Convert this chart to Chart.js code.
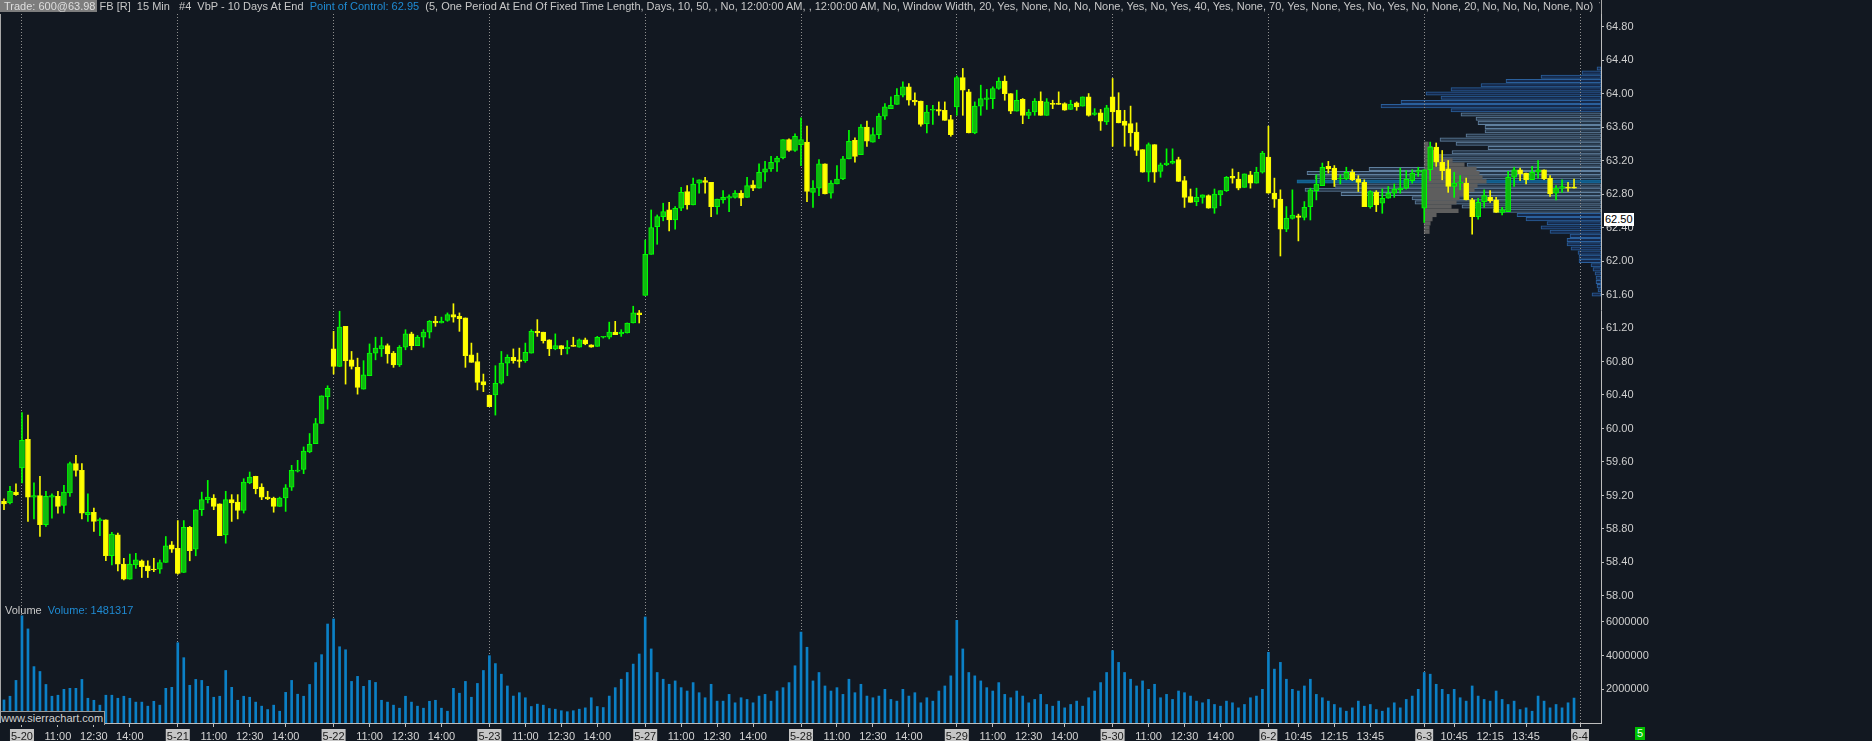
<!DOCTYPE html>
<html>
<head>
<meta charset="utf-8">
<title>FB 15 Min - VbP</title>
<script src="https://cdn.jsdelivr.net/npm/chart.js@4.4.1/dist/chart.umd.min.js"></script>
<style>
  html, body { margin: 0; padding: 0; background: #121821; overflow: hidden; }
  #wrap { position: relative; width: 1872px; height: 741px; }
  canvas { position: absolute; left: 0; top: 0; }
  #profileChart { z-index: 1; }
  #mainChart { z-index: 2; }
  .txt { position: absolute; z-index: 3; font: 11px 'Liberation Sans', Arial, sans-serif; color: #c8c8c8; white-space: pre; line-height: 13px; }
  .blue { color: #1f8bd3; }
  #header { left: 0; top: 0; width: 1600px; overflow: hidden; }
  .tradeBox { background: #7d7d7d; color: #dedede; padding: 0 1px 0 4px; }
  .line { position: absolute; z-index: 3; background: #a8a8a8; }
  #lastPrice { background: #ffffff; color: #000; padding: 0 1px; }
  #watermark { background: #121821; color: #d0d0d0; border-right: 1px solid #9a9a9a; border-top: 1px solid #9a9a9a; padding: 0 1px; }
  #barsLeft { background: #00c000; color: #eaffea; padding: 0 2px; }
</style>
</head>
<body>
<div id="wrap">
  <canvas id="profileChart" width="1872" height="741"></canvas>
  <canvas id="mainChart" width="1872" height="741"></canvas>
  <div class="txt" id="header"><span class="tradeBox">Trade: 600@63.98</span> FB [R]  15 Min   #4  VbP - 10 Days At End  <span class="blue">Point of Control: 62.95</span>  (5, One Period At End Of Fixed Time Length, Days, 10, 50, , No, 12:00:00 AM, , 12:00:00 AM, No, Window Width, 20, Yes, None, No, No, None, Yes, No, Yes, 40, Yes, None, 70, Yes, None, Yes, No, Yes, No, None, 20, No, No, No, None, No)  V</div>
  <div class="txt" style="left:5px;top:604px;">Volume  <span class="blue">Volume: 1481317</span></div>
  <div class="txt" id="watermark" style="left:0;top:711px;">www.sierrachart.com</div>
  <div class="txt" id="lastPrice" style="left:1604px;top:0;">62.50</div>
  <div class="txt" id="barsLeft" style="left:1635px;top:727px;">5</div>
  <div class="line" style="left:0;top:14px;width:1px;height:709px;"></div>
  <div class="line" style="left:1601px;top:0;width:1px;height:14px;"></div>
</div>
<script>
// ---- sessions / x axis -------------------------------------------------
const sessionDates = ['5-20', '5-21', '5-22', '5-23', '5-27', '5-28', '5-29', '5-30', '6-2', '6-3', '6-4'];
const priorBars = 3;          // last bars of the session before 5-20
const barsPerSession = 26;    // 15 min bars 9:30 .. 15:45
const emptySlots = 4;         // free space right of the last bar
const tickTimesWide = ['11:00', '12:30', '14:00'];
const tickTimesNarrow = ['10:45', '12:15', '13:45'];
const narrowSessions = ['6-2', '6-3'];

// ---- price axis ---------------------------------------------------------
const priceMin = 57.88;
const priceMax = 64.95;
const priceTicks = [58.00, 58.40, 58.80, 59.20, 59.60, 60.00, 60.40, 60.80, 61.20, 61.60,
  62.00, 62.40, 62.80, 63.20, 63.60, 64.00, 64.40, 64.80];
const volumeMax = 6950000;
const volumeTicks = [2000000, 4000000, 6000000];
const lastPriceLabel = 62.50;

// ---- candles (one row per session) -------------------------------------
const opens = [
  59.13, 59.11, 59.24,
  59.53, 59.87, 59.18, 59.20, 58.85, 59.18, 59.19, 59.08, 59.23, 59.58, 59.50, 58.97, 59.00, 58.90, 58.91, 58.48, 58.73, 58.38, 58.20, 58.37, 58.42, 58.36, 58.31, 58.32, 58.40, 58.61,
  58.57, 58.28, 58.82, 58.56, 59.03, 59.15, 59.17, 59.10, 58.73, 59.15, 59.12, 59.02, 59.35, 59.43, 59.30, 59.18, 59.17, 59.07, 59.17, 59.30, 59.49, 59.51, 59.72, 59.82, 60.06, 60.38,
  60.95, 60.74, 61.22, 60.82, 60.73, 60.47, 60.63, 60.90, 60.95, 60.99, 60.90, 60.76, 60.97, 61.13, 60.99, 61.09, 61.15, 61.28, 61.26, 61.29, 61.36, 61.34, 61.32, 60.88, 60.80, 60.56,
  60.40, 60.40, 60.54, 60.78, 60.85, 60.82, 60.81, 60.90, 61.16, 61.15, 61.06, 60.95, 60.99, 60.95, 60.98, 60.97, 61.06, 61.00, 60.98, 61.09, 61.09, 61.15, 61.13, 61.14, 61.26, 61.38,
  61.59, 62.08, 62.41, 62.53, 62.61, 62.49, 62.63, 62.83, 62.67, 62.93, 62.96, 62.94, 62.65, 62.73, 62.75, 62.76, 62.81, 62.76, 62.91, 62.87, 63.06, 63.10, 63.18, 63.23, 63.45, 63.32,
  63.39, 63.42, 62.82, 62.87, 63.16, 62.81, 62.92, 62.98, 63.22, 63.44, 63.27, 63.60, 63.42, 63.51, 63.73, 63.82, 63.87, 63.98, 64.08, 63.92, 63.91, 63.64, 63.80, 63.81, 63.80, 63.69,
  63.84, 64.19, 64.02, 63.53, 63.85, 63.93, 63.94, 64.06, 64.15, 64.00, 63.79, 63.93, 63.74, 63.78, 63.91, 63.74, 63.88, 63.88, 63.88, 63.81, 63.89, 63.85, 63.96, 63.75, 63.77, 63.66,
  63.96, 63.80, 63.67, 63.64, 63.54, 63.33, 63.06, 63.39, 63.07, 63.15, 63.17, 63.21, 62.96, 62.77, 62.71, 62.76, 62.78, 62.63, 62.79, 62.84, 63.01, 62.98, 62.88, 63.03, 62.93, 63.06,
  63.24, 62.81, 62.74, 62.38, 62.51, 62.54, 62.52, 62.65, 62.84, 62.90, 63.13, 63.11, 62.98, 62.98, 63.06, 62.98, 62.94, 62.65, 62.82, 62.69, 62.75, 62.81, 62.85, 62.87, 62.96, 63.06,
  62.63, 63.09, 63.36, 63.18, 63.10, 62.89, 62.93, 62.93, 62.73, 62.53, 62.71, 62.76, 62.73, 62.58, 62.59, 63.00, 63.09, 63.05, 62.97, 63.06, 63.09, 62.99, 62.81, 62.87, 62.88, 62.87
];
const highs = [
  59.16, 59.31, 59.34,
  60.19, 60.16, 59.35, 59.43, 59.25, 59.22, 59.25, 59.32, 59.60, 59.68, 59.58, 59.22, 59.05, 58.93, 58.91, 58.76, 58.75, 58.45, 58.50, 58.51, 58.43, 58.42, 58.45, 58.43, 58.71, 58.65,
  58.90, 58.90, 58.83, 59.03, 59.24, 59.38, 59.21, 59.10, 59.25, 59.21, 59.21, 59.40, 59.48, 59.43, 59.34, 59.25, 59.18, 59.18, 59.33, 59.56, 59.62, 59.78, 59.94, 60.12, 60.39, 60.51,
  61.16, 61.40, 61.22, 60.92, 60.84, 60.81, 61.01, 61.09, 61.09, 61.01, 60.92, 60.99, 61.18, 61.15, 61.11, 61.18, 61.29, 61.34, 61.33, 61.38, 61.49, 61.38, 61.32, 61.02, 60.90, 60.65,
  60.40, 60.75, 60.92, 60.88, 60.95, 60.96, 61.02, 61.18, 61.30, 61.15, 61.06, 61.13, 60.99, 61.05, 61.09, 61.07, 61.08, 61.00, 61.10, 61.10, 61.27, 61.28, 61.18, 61.26, 61.46, 61.41,
  62.25, 62.61, 62.55, 62.69, 62.70, 62.65, 62.88, 62.90, 62.99, 62.97, 63.00, 62.94, 62.74, 62.84, 62.79, 62.84, 62.84, 63.00, 62.96, 63.16, 63.19, 63.25, 63.25, 63.45, 63.46, 63.52,
  63.71, 63.61, 62.96, 63.21, 63.16, 62.96, 63.14, 63.25, 63.56, 63.47, 63.63, 63.67, 63.59, 63.76, 63.88, 63.96, 64.06, 64.14, 64.12, 64.01, 63.91, 63.86, 63.86, 63.90, 63.90, 63.74,
  64.21, 64.30, 64.05, 63.90, 64.10, 64.05, 64.08, 64.19, 64.21, 64.00, 64.04, 63.94, 63.81, 63.94, 64.02, 63.94, 63.92, 64.02, 63.89, 63.92, 63.90, 63.96, 64.00, 63.82, 63.81, 63.86,
  64.18, 64.01, 63.80, 63.85, 63.65, 63.33, 63.41, 63.39, 63.17, 63.34, 63.34, 63.24, 63.01, 62.86, 62.87, 62.79, 62.79, 62.86, 62.84, 63.01, 63.10, 63.06, 63.04, 63.07, 63.12, 63.31,
  63.61, 62.99, 62.85, 62.65, 62.85, 62.56, 62.71, 62.87, 63.03, 63.17, 63.19, 63.14, 63.03, 63.12, 63.09, 63.02, 62.97, 62.84, 62.84, 62.86, 62.89, 62.92, 63.11, 63.08, 63.09, 63.12,
  63.09, 63.42, 63.41, 63.32, 63.20, 63.06, 63.02, 62.99, 62.75, 62.75, 62.85, 62.84, 62.76, 62.64, 63.07, 63.12, 63.11, 63.05, 63.13, 63.20, 63.09, 63.02, 62.90, 62.97, 62.94, 62.98
];
const lows = [
  59.03, 59.10, 59.20,
  59.35, 58.89, 58.92, 58.71, 58.83, 58.93, 58.99, 58.99, 59.19, 59.43, 58.92, 58.89, 58.77, 58.72, 58.42, 58.37, 58.30, 58.19, 58.20, 58.33, 58.22, 58.22, 58.29, 58.27, 58.40, 58.52,
  58.26, 58.28, 58.42, 58.48, 58.96, 59.11, 59.03, 58.72, 58.63, 58.89, 58.92, 58.99, 59.34, 59.22, 59.15, 59.15, 59.00, 59.07, 59.01, 59.26, 59.48, 59.46, 59.71, 59.82, 60.06, 60.23,
  60.65, 60.74, 60.53, 60.71, 60.41, 60.47, 60.63, 60.82, 60.86, 60.78, 60.73, 60.74, 60.94, 60.94, 60.99, 60.97, 61.08, 61.22, 61.26, 61.28, 61.27, 61.16, 60.73, 60.79, 60.46, 60.44,
  60.26, 60.16, 60.53, 60.63, 60.78, 60.73, 60.79, 60.90, 61.10, 61.02, 60.87, 60.94, 60.88, 60.89, 60.98, 60.97, 61.00, 60.97, 60.98, 61.08, 61.07, 61.12, 61.10, 61.14, 61.26, 61.26,
  61.59, 62.08, 62.20, 62.48, 62.36, 62.38, 62.60, 62.62, 62.67, 62.81, 62.81, 62.53, 62.56, 62.69, 62.59, 62.75, 62.66, 62.76, 62.84, 62.87, 62.95, 63.07, 63.07, 63.22, 63.31, 63.31,
  63.14, 62.71, 62.64, 62.78, 62.80, 62.75, 62.92, 62.97, 63.22, 63.18, 63.27, 63.37, 63.42, 63.46, 63.69, 63.82, 63.87, 63.96, 63.86, 63.86, 63.61, 63.53, 63.63, 63.74, 63.68, 63.49,
  63.74, 63.74, 63.53, 63.52, 63.74, 63.81, 63.82, 64.05, 63.92, 63.76, 63.79, 63.64, 63.70, 63.74, 63.74, 63.74, 63.82, 63.87, 63.80, 63.81, 63.80, 63.85, 63.73, 63.74, 63.56, 63.63,
  63.37, 63.65, 63.37, 63.37, 63.26, 63.06, 62.95, 62.94, 63.00, 63.14, 63.16, 62.95, 62.64, 62.70, 62.66, 62.69, 62.63, 62.57, 62.66, 62.83, 62.93, 62.85, 62.88, 62.87, 62.93, 63.05,
  62.81, 62.64, 62.06, 62.35, 62.50, 62.24, 62.49, 62.49, 62.73, 62.90, 63.05, 62.89, 62.92, 62.97, 62.96, 62.83, 62.65, 62.63, 62.59, 62.57, 62.75, 62.76, 62.81, 62.86, 62.93, 63.01,
  62.46, 62.96, 63.13, 62.97, 62.82, 62.76, 62.85, 62.73, 62.32, 62.50, 62.64, 62.70, 62.58, 62.55, 62.59, 62.89, 62.96, 62.92, 62.97, 62.99, 62.97, 62.77, 62.73, 62.82, 62.83, 62.87
];
const closes = [
  59.10, 59.25, 59.21,
  59.86, 59.18, 59.20, 58.85, 59.19, 59.20, 59.07, 59.24, 59.58, 59.50, 58.99, 59.00, 58.89, 58.91, 58.48, 58.74, 58.38, 58.20, 58.38, 58.43, 58.35, 58.30, 58.31, 58.40, 58.60, 58.56,
  58.27, 58.82, 58.54, 59.03, 59.15, 59.18, 59.07, 58.72, 59.15, 59.11, 59.02, 59.36, 59.42, 59.28, 59.18, 59.16, 59.07, 59.17, 59.29, 59.50, 59.50, 59.73, 59.81, 60.06, 60.39, 60.48,
  60.74, 61.21, 60.81, 60.74, 60.49, 60.64, 60.90, 60.96, 60.99, 60.89, 60.76, 60.97, 61.13, 60.99, 61.09, 61.15, 61.28, 61.26, 61.28, 61.36, 61.33, 61.31, 60.87, 60.79, 60.55, 60.52,
  60.26, 60.54, 60.78, 60.85, 60.81, 60.80, 60.91, 61.16, 61.14, 61.05, 60.95, 60.99, 60.95, 60.97, 60.98, 61.06, 61.01, 60.97, 61.09, 61.10, 61.15, 61.12, 61.15, 61.26, 61.38, 61.36,
  62.08, 62.40, 62.53, 62.59, 62.49, 62.63, 62.82, 62.67, 62.92, 62.97, 62.94, 62.65, 62.74, 62.76, 62.77, 62.81, 62.75, 62.90, 62.87, 63.06, 63.10, 63.18, 63.23, 63.45, 63.32, 63.49,
  63.45, 62.83, 62.87, 63.16, 62.80, 62.93, 62.98, 63.22, 63.43, 63.25, 63.60, 63.43, 63.51, 63.73, 63.84, 63.86, 63.98, 64.08, 63.92, 63.90, 63.63, 63.78, 63.81, 63.79, 63.68, 63.51,
  64.19, 64.04, 63.53, 63.85, 63.94, 63.95, 64.06, 64.15, 64.00, 63.79, 63.92, 63.74, 63.78, 63.91, 63.74, 63.90, 63.87, 63.87, 63.80, 63.87, 63.84, 63.96, 63.74, 63.77, 63.67, 63.83,
  63.78, 63.65, 63.62, 63.53, 63.32, 63.06, 63.39, 63.06, 63.15, 63.17, 63.19, 62.95, 62.76, 62.70, 62.76, 62.79, 62.63, 62.80, 62.84, 63.00, 62.99, 62.87, 63.04, 62.93, 63.06, 63.29,
  62.81, 62.74, 62.38, 62.51, 62.55, 62.52, 62.64, 62.85, 62.92, 63.12, 63.10, 62.97, 62.99, 63.06, 62.97, 62.94, 62.65, 62.83, 62.67, 62.75, 62.81, 62.86, 62.87, 62.98, 63.05, 63.08,
  63.09, 63.36, 63.18, 63.08, 62.89, 62.93, 62.94, 62.73, 62.53, 62.70, 62.78, 62.72, 62.58, 62.61, 63.00, 63.09, 63.04, 62.97, 63.06, 63.09, 62.98, 62.80, 62.87, 62.89, 62.87, 62.87
];
const volume = [
  1370000, 1590000, 2530000,
  6370000, 5590000, 3350000, 3060000, 2290000, 1590000, 1650000, 2000000, 2060000, 2060000, 2590000, 1470000, 1350000, 1060000, 1650000, 1650000, 1470000, 1590000, 1470000, 1240000, 1240000, 1000000, 1290000, 1060000, 2060000, 2120000,
  4770000, 3880000, 2240000, 2590000, 2530000, 2180000, 1530000, 1590000, 3120000, 2120000, 1350000, 1590000, 1530000, 1240000, 1000000, 800000, 1060000, 700000, 1820000, 2530000, 1710000, 1590000, 2290000, 3590000, 4060000, 5880000,
  6180000, 4530000, 4350000, 2470000, 2770000, 2180000, 2530000, 2410000, 1350000, 1240000, 1060000, 880000, 1590000, 1240000, 1000000, 880000, 1290000, 1350000, 880000, 700000, 2060000, 1770000, 2470000, 1530000, 2350000, 3120000,
  4000000, 3530000, 2900000, 2200000, 1600000, 1800000, 1500000, 980000, 1120000, 1060000, 860000, 820000, 730000, 670000, 730000, 820000, 900000, 1500000, 980000, 920000, 1600000, 2100000, 2600000, 3000000, 3500000, 4100000,
  6300000, 4400000, 3000000, 2600000, 2300000, 2500000, 2100000, 1900000, 2400000, 1800000, 1500000, 2300000, 1300000, 1300000, 1700000, 1200000, 1500000, 1400000, 1200000, 1600000, 1700000, 1300000, 1900000, 2100000, 2400000, 3400000,
  5400000, 4500000, 2500000, 3000000, 2200000, 1900000, 2100000, 1700000, 2600000, 1800000, 2300000, 1600000, 1500000, 1600000, 2000000, 1400000, 1300000, 2000000, 1600000, 1800000, 1200000, 1500000, 1300000, 1900000, 2200000, 2800000,
  6100000, 4400000, 3000000, 2800000, 2500000, 2100000, 1900000, 2400000, 1700000, 1500000, 1900000, 1600000, 1200000, 1400000, 1700000, 1100000, 1000000, 1300000, 900000, 1100000, 1300000, 1000000, 1500000, 1900000, 2400000, 3000000,
  4300000, 3600000, 3000000, 2600000, 2200000, 2500000, 2000000, 2300000, 1500000, 1700000, 1400000, 1900000, 1800000, 1600000, 1300000, 1200000, 1400000, 1100000, 1000000, 1300000, 1200000, 900000, 1100000, 1500000, 1600000, 2000000,
  4200000, 3200000, 3600000, 2600000, 2000000, 1900000, 2200000, 2600000, 1700000, 1500000, 1300000, 1100000, 900000, 700000, 900000, 1300000, 1000000, 1100000, 800000, 700000, 900000, 1200000, 900000, 1400000, 1600000, 2000000,
  3000000, 2900000, 2300000, 2000000, 1700000, 2000000, 1500000, 1300000, 2200000, 1600000, 1400000, 1300000, 1900000, 1400000, 1100000, 1300000, 800000, 900000, 700000, 1600000, 1300000, 900000, 1100000, 900000, 1200000, 1481317
];

// ---- volume by price, 10 days (relative length) --
const profilePrices = [
  64.30, 64.25, 64.20, 64.15, 64.10, 64.05, 64.00, 63.95, 63.90, 63.85, 63.80, 63.75, 63.70, 63.65,
  63.60, 63.55, 63.50, 63.45, 63.40, 63.35, 63.30, 63.25, 63.20, 63.15, 63.10, 63.05, 63.00, 62.95,
  62.90, 62.85, 62.80, 62.75, 62.70, 62.65, 62.60, 62.55, 62.50, 62.45, 62.40, 62.35, 62.30, 62.25,
  62.20, 62.15, 62.10, 62.05, 62.00, 61.95, 61.90, 61.85, 61.80, 61.75, 61.70, 61.65, 61.60
];
const profileVol = [
  4, 19, 60, 95, 120, 150, 175, 160, 200, 220, 150, 140, 125, 123,
  116, 116, 135, 161, 145, 113, 149, 172, 172, 134, 232, 294, 286, 304,
  266, 296, 260, 189, 186, 139, 108, 84, 75, 54, 60, 51, 31, 34,
  34, 30, 23, 22, 22, 10, 8, 6, 5, 5, 4, 3, 9
];
const pocPrice = 62.95;
const valueAreaHigh = 63.75;
const valueAreaLow = 62.60;

// ---- volume by price of the 6-3 session (grey) -------------------------
const sessionProfileDate = '6-3';
const sessionProfilePrices = [
  63.40, 63.35, 63.30, 63.25, 63.20, 63.15, 63.10, 63.05, 63.00, 62.95, 62.90,
  62.85, 62.80, 62.75, 62.70, 62.65, 62.60, 62.55, 62.50, 62.45, 62.40, 62.35
];
const sessionProfileVol = [
  4, 8, 12, 18, 28, 40, 52, 55, 58, 62, 53,
  50, 40, 35, 32, 27, 34, 12, 8, 6, 5, 5
];

// ---- build categories ---------------------------------------------------
const slotCount = priorBars + barsPerSession * (sessionDates.length - 1) + emptySlots;
const slotSession = [];
const slotTime = [];
for (let i = 0; i < slotCount; i++) {
  const n = i - priorBars;
  const s = Math.floor(n / barsPerSession);
  const j = ((n % barsPerSession) + barsPerSession) % barsPerSession;
  const mins = 9 * 60 + 30 + j * 15;
  slotSession.push(s);
  slotTime.push(Math.floor(mins / 60) + ':' + String(mins % 60).padStart(2, '0'));
}
const categories = slotTime.map((t, i) => (slotSession[i] >= 0 ? sessionDates[slotSession[i]] : '5-19') + ' ' + t);

function isDateTick(i) {
  return slotSession[i] >= 0 && slotTime[i] === '9:30';
}
function tickText(i) {
  const s = slotSession[i];
  if (s < 0) return '';
  if (isDateTick(i)) return sessionDates[s];
  const set = narrowSessions.includes(sessionDates[s]) ? tickTimesNarrow : tickTimesWide;
  if (s < sessionDates.length - 1 && set.includes(slotTime[i])) return slotTime[i];
  return '';
}

const isUp = i => closes[i] > opens[i];
const upFill = '#10b810', upLine = '#00ff00', downFill = '#ffff00', downLine = '#f8f800';

Chart.defaults.font.family = "'Liberation Sans', Arial, sans-serif";
Chart.defaults.font.size = 11;
Chart.defaults.color = '#cfcfcf';

const mainChart = new Chart(document.getElementById('mainChart'), {
  type: 'bar',
  data: {
    labels: categories,
    datasets: [
      {
        label: 'Body',
        data: opens.map((o, i) => [o, closes[i]]),
        yAxisID: 'y',
        grouped: false,
        barThickness: 5,
        minBarLength: 1,
        borderWidth: 1,
        borderSkipped: false,
        backgroundColor: opens.map((o, i) => isUp(i) ? upFill : downFill),
        borderColor: opens.map((o, i) => isUp(i) ? upLine : downLine)
      },
      {
        label: 'Wick',
        data: lows.map((l, i) => [l, highs[i]]),
        yAxisID: 'y',
        grouped: false,
        barThickness: 1,
        backgroundColor: opens.map((o, i) => isUp(i) ? upLine : downLine)
      },
      {
        label: 'Volume',
        data: volume,
        yAxisID: 'yv',
        grouped: false,
        barThickness: 2,
        backgroundColor: '#0b80c6'
      }
    ]
  },
  options: {
    responsive: false,
    animation: false,
    devicePixelRatio: 1,
    events: [],
    layout: { padding: { left: 1, top: 14, right: 0, bottom: 0 } },
    plugins: { legend: { display: false }, tooltip: { enabled: false } },
    scales: {
      x: {
        type: 'category',
        offset: true,
        afterFit: (scale) => { scale.height = 18; },
        grid: {
          offset: false,
          drawOnChartArea: true,
          color: (ctx) => isDateTick(ctx.index) ? '#8e8e8e' : 'rgba(0,0,0,0)',
          lineWidth: 1,
          drawTicks: true,
          tickLength: 4,
          tickColor: (ctx) => tickText(ctx.index) ? '#bdbdbd' : 'rgba(0,0,0,0)'
        },
        border: { display: true, color: '#bdbdbd', width: 1, dash: [1, 2] },
        ticks: {
          autoSkip: false,
          maxRotation: 0,
          minRotation: 0,
          padding: 3,
          callback: (value, index) => tickText(index),
          color: (ctx) => isDateTick(ctx.index) ? '#1a1a1a' : '#d4d4d4',
          showLabelBackdrop: (ctx) => isDateTick(ctx.index),
          backdropColor: '#c6c6c6',
          backdropPadding: { left: 1, right: 1, top: 1, bottom: 0 }
        }
      },
      y: {
        type: 'linear',
        position: 'right',
        stack: 'panes',
        stackWeight: 592,
        min: priceMin,
        max: priceMax,
        afterFit: (scale) => { scale.width = 271; },
        afterBuildTicks: (scale) => { scale.ticks = priceTicks.map(v => ({ value: v })); },
        grid: { drawOnChartArea: false, drawTicks: true, tickLength: 3, tickColor: '#bdbdbd' },
        border: { color: '#bdbdbd', width: 1 },
        ticks: { padding: 2, color: '#cfcfcf', callback: (v) => Number(v).toFixed(2) }
      },
      yv: {
        type: 'linear',
        position: 'right',
        stack: 'panes',
        stackWeight: 117,
        min: 0,
        max: volumeMax,
        afterFit: (scale) => { scale.width = 271; },
        afterBuildTicks: (scale) => { scale.ticks = volumeTicks.map(v => ({ value: v })); },
        grid: { drawOnChartArea: false, drawTicks: true, tickLength: 3, tickColor: '#bdbdbd' },
        border: { color: '#bdbdbd', width: 1 },
        ticks: { padding: 2, color: '#cfcfcf', callback: (v) => String(v) }
      }
    }
  }
});

// ---- volume profile overlay, aligned with the price pane -------------
const area = mainChart.chartArea;
const priceScale = mainChart.scales.y;
const timeScale = mainChart.scales.x;
const sessionStartIndex = priorBars + barsPerSession * sessionDates.indexOf(sessionProfileDate);
const sessionStartPx = timeScale.getPixelForValue(sessionStartIndex);

function levelFill(p) {
  if (Math.abs(p - pocPrice) < 0.001) return '#0f5b88';
  if (p <= valueAreaHigh + 0.001 && p >= valueAreaLow - 0.001) return '#243446';
  return '#16294a';
}
function levelLine(p) {
  if (Math.abs(p - pocPrice) < 0.001) return '#1a6b9a';
  if (p <= valueAreaHigh + 0.001 && p >= valueAreaLow - 0.001) return '#60809f';
  return '#2a5f9c';
}

new Chart(document.getElementById('profileChart'), {
  type: 'bar',
  data: {
    datasets: [
      {
        label: 'Session volume by price',
        data: sessionProfilePrices.map((p, i) => ({ x: sessionProfileVol[i], y: p })),
        xAxisID: 'xs',
        yAxisID: 'y',
        grouped: false,
        barThickness: 3.6,
        backgroundColor: '#5e5e5e'
      },
      {
        label: 'Volume by price',
        data: profilePrices.map((p, i) => ({ x: profileVol[i], y: p })),
        xAxisID: 'x',
        yAxisID: 'y',
        grouped: false,
        barThickness: 3.4,
        borderWidth: 1,
        borderSkipped: false,
        backgroundColor: profilePrices.map(levelFill),
        borderColor: profilePrices.map(levelLine)
      }
    ]
  },
  options: {
    indexAxis: 'y',
    responsive: false,
    animation: false,
    devicePixelRatio: 1,
    events: [],
    layout: { padding: { left: area.left, top: priceScale.top, right: 1872 - area.right, bottom: 741 - priceScale.bottom } },
    plugins: { legend: { display: false }, tooltip: { enabled: false } },
    scales: {
      y: { type: 'linear', offset: false, min: priceMin, max: priceMax, display: false },
      x: { type: 'linear', reverse: true, min: 0, max: area.right - area.left, display: false },
      xs: { type: 'linear', axis: 'x', min: -(sessionStartPx - area.left), max: area.right - sessionStartPx, display: false }
    }
  }
});

// last price label on the price axis
const lp = document.getElementById('lastPrice');
lp.style.top = (priceScale.getPixelForValue(lastPriceLabel) - 6.5) + 'px';
</script>
</body>
</html>
